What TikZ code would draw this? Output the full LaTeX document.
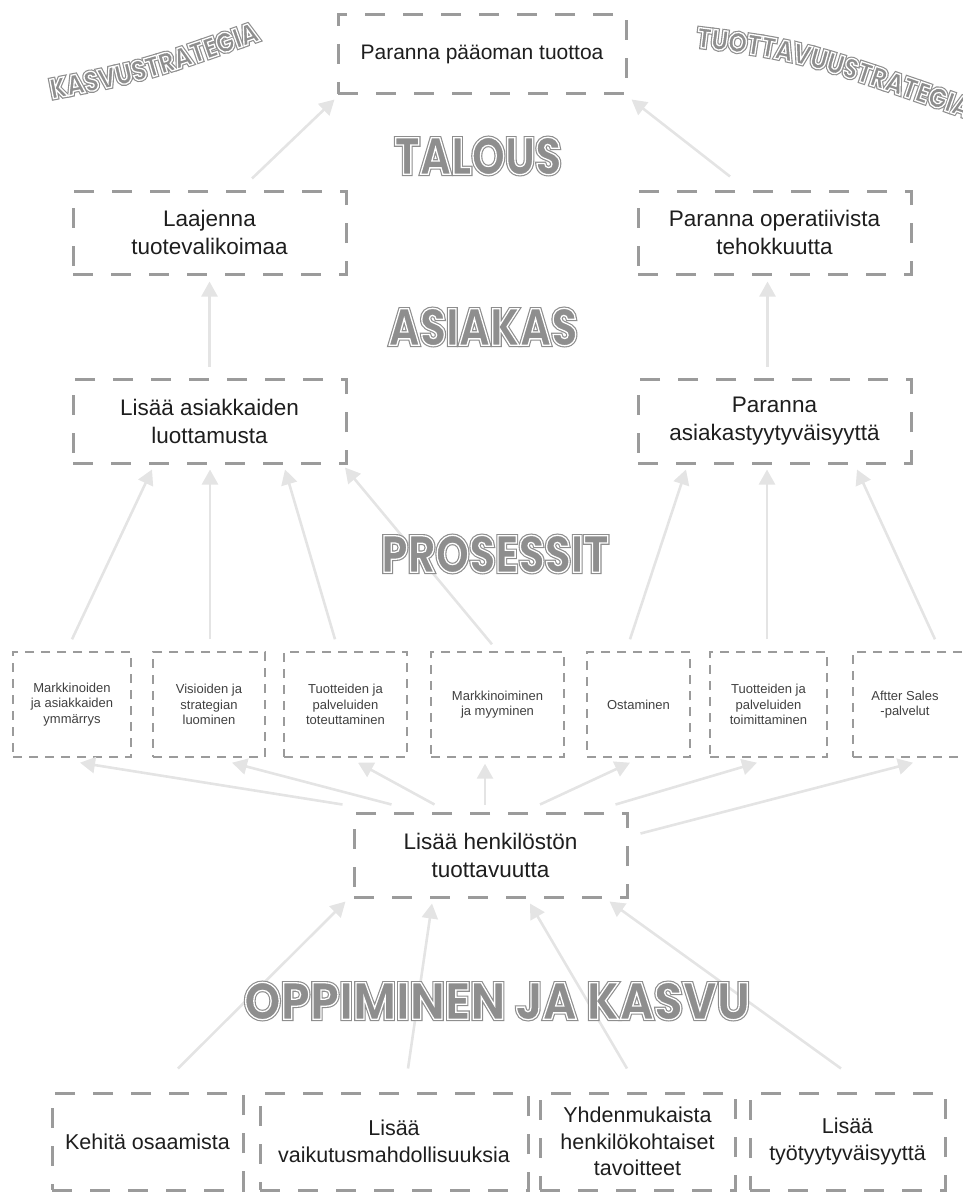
\documentclass[tikz,border=0pt]{standalone}
\usepackage{fontspec}
\setmainfont{Liberation Sans}
\newfontfamily\headfont[FakeStretch=0.82]{Poppins}
\newfontfamily\wideheadfont[FakeStretch=0.9]{Poppins}
\newfontfamily\arcfont[FakeStretch=0.86]{Poppins}
\usetikzlibrary{arrows.meta,decorations.text}

\definecolor{boxgray}{HTML}{9B9B9B}
\definecolor{linkgray}{HTML}{E4E4E4}
\definecolor{hdgray}{HTML}{8E8E8E}
\definecolor{ink}{HTML}{1E1E1E}

% inline lettering: filled and stroked glyphs, then a thin white stroke on the outline
\newcommand\inlinefill{\special{pdf:literal direct 2 Tr 3.6 w}}
\newcommand\inlinecut{\special{pdf:literal direct 1 Tr 1.3 w}}
\newcommand\plainrender{\special{pdf:literal direct 0 Tr}}
\newcommand\inlined[1]{\rlap{\inlinefill#1}{\color{white}\inlinecut#1}\plainrender}
\newcommand\arcstyle{\arcfont\bfseries\fontsize{28}{28}\selectfont}

\tikzset{
  bigbox/.style={draw=boxgray, line width=3pt, dash pattern=on 20pt off 18pt,
    align=center, text=ink, inner sep=0pt},
  procbox/.style={draw=boxgray, line width=1.4pt, dash pattern=on 9pt off 7pt,
    align=center, text=ink!85, inner sep=0pt, minimum height=105pt,
    font=\fontsize{13}{15.5}\selectfont},
  link/.style={draw=linkgray, line width=2.6pt, -{Triangle[length=15pt,width=16pt]}},
  heading/.style={text=hdgray, inner sep=0pt,
    font=\headfont\bfseries\fontsize{52}{52}\selectfont},
}

\begin{document}
\begin{tikzpicture}[x=1pt, y=-1pt]
\useasboundingbox (0,0) rectangle (963,1196);

% ---- objectives
\node[bigbox, minimum width=288pt, minimum height=79pt,
  font=\fontsize{21}{26}\selectfont] (top) at (482,54.5) {Paranna pääoman tuottoa};
\node[bigbox, minimum width=273pt, minimum height=83pt,
  font=\fontsize{22.5}{28}\selectfont] (laaj) at (209.5,232.5) {Laajenna\\tuotevalikoimaa};
\node[bigbox, minimum width=273pt, minimum height=83pt,
  font=\fontsize{22.5}{28}\selectfont] (oper) at (774.5,232.5) {Paranna operatiivista\\tehokkuutta};
\node[bigbox, minimum width=273pt, minimum height=84pt,
  font=\fontsize{22.5}{28}\selectfont] (luott) at (209.5,421) {Lisää asiakkaiden\\luottamusta};
\node[bigbox, minimum width=273pt, minimum height=84pt,
  font=\fontsize{22.5}{28}\selectfont] (tyyt) at (774.5,421) {Paranna\\asiakastyytyväisyyttä};

% ---- processes
\node[procbox, minimum width=118pt] (p1) at (72,704.5) {Markkinoiden\\ja asiakkaiden\\ymmärrys};
\node[procbox, minimum width=112pt] (p2) at (209,704.5) {Visioiden ja\\strategian\\luominen};
\node[procbox, minimum width=123pt] (p3) at (345.5,704.5) {Tuotteiden ja\\palveluiden\\toteuttaminen};
\node[procbox, minimum width=133pt] (p4) at (497.5,704.5) {Markkinoiminen\\ja myyminen};
\node[procbox, minimum width=103pt] (p5) at (638.5,704.5) {Ostaminen};
\node[procbox, minimum width=117pt] (p6) at (768.5,704.5) {Tuotteiden ja\\palveluiden\\toimittaminen};
\node[procbox, minimum width=122pt] (p7) at (914,704.5) {\hspace*{-18pt}Aftter Sales\\\hspace*{-18pt}-palvelut};

% ---- people
\node[bigbox, minimum width=273pt, minimum height=84pt,
  font=\fontsize{22.5}{28}\selectfont] (henk) at (490.5,855) {Lisää henkilöstön\\tuottavuutta};

\node[bigbox, minimum width=191pt, minimum height=97pt,
  font=\fontsize{21.5}{26.5}\selectfont] (b1) at (147.5,1141.5) {Kehitä osaamista};
\node[bigbox, minimum width=268pt, minimum height=97pt,
  font=\fontsize{21.5}{26.5}\selectfont] (b2) at (394,1141.5) {Lisää\\vaikutusmahdollisuuksia};
\node[bigbox, minimum width=195pt, minimum height=97pt,
  font=\fontsize{21.5}{26.5}\selectfont] (b3) at (637.5,1141.5) {Yhdenmukaista\\henkilökohtaiset\\tavoitteet};
\node[bigbox, minimum width=195pt, minimum height=97pt,
  font=\fontsize{21.5}{26.5}\selectfont] (b4) at (847.5,1141.5) {Lisää\\työtyytyväisyyttä};

% ---- cause and effect links
\draw[link] ([xshift=42.5pt,yshift=11pt]laaj.north) -- ([xshift=-2pt,yshift=-4pt]top.south west);
\draw[link] ([xshift=-44.5pt,yshift=13pt]oper.north) -- ([xshift=4pt,yshift=-4pt]top.south east);
\draw[link] ([yshift=11pt]luott.north) -- ([yshift=-6pt]laaj.south);
\draw[link] ([xshift=-7pt,yshift=11pt]tyyt.north) -- ([xshift=-7pt,yshift=-6pt]oper.south);

\draw[link] ([yshift=12pt]p1.north) -- ([xshift=-57.5pt,yshift=-5pt]luott.south);
\draw[link] ([xshift=1pt,yshift=12pt]p2.north) -- ([xshift=0.5pt,yshift=-5pt]luott.south);
\draw[link] ([xshift=-10.5pt,yshift=12pt]p3.north) -- ([xshift=75.5pt,yshift=-5pt]luott.south);
\draw[link] ([xshift=-5.5pt,yshift=7pt]p4.north) -- ([xshift=135.5pt,yshift=-3pt]luott.south);
\draw[link] ([xshift=-8.5pt,yshift=12pt]p5.north) -- ([xshift=-88.5pt,yshift=-5pt]tyyt.south);
\draw[link] ([xshift=-1.5pt,yshift=12pt]p6.north) -- ([xshift=-7.5pt,yshift=-5pt]tyyt.south);
\draw[link] ([xshift=21pt,yshift=12pt]p7.north) -- ([xshift=82.5pt,yshift=-5pt]tyyt.south);

\draw[link] ([xshift=-10pt,yshift=7pt]henk.north west) -- ([xshift=8pt,yshift=-5pt]p1.south);
\draw[link] ([xshift=39pt,yshift=7pt]henk.north west) -- ([xshift=23pt,yshift=-5pt]p2.south);
\draw[link] ([xshift=82pt,yshift=7pt]henk.north west) -- ([xshift=12.5pt,yshift=-5pt]p3.south);
\draw[link] ([xshift=-5.5pt,yshift=7pt]henk.north) -- ([xshift=-12.5pt,yshift=-6pt]p4.south);
\draw[link] ([xshift=49.5pt,yshift=7pt]henk.north) -- ([xshift=-8.5pt,yshift=-5pt]p5.south);
\draw[link] ([xshift=-13pt,yshift=7pt]henk.north east) -- ([xshift=-11.5pt,yshift=-5pt]p6.south);
\draw[link] ([xshift=12pt,yshift=-22pt]henk.north east) -- ([xshift=-1pt,yshift=-5pt]p7.south);

\draw[link] ([xshift=30.5pt,yshift=23pt]b1.north) -- ([xshift=-7pt,yshift=-3pt]henk.south west);
\draw[link] ([xshift=14pt,yshift=23pt]b2.north) -- ([xshift=-58.5pt,yshift=-5pt]henk.south);
\draw[link] ([xshift=-10.5pt,yshift=23pt]b3.north) -- ([xshift=39.5pt,yshift=-5pt]henk.south);
\draw[link] ([xshift=-6.5pt,yshift=23pt]b4.north) -- ([xshift=-19pt,yshift=-3pt]henk.south east);

% ---- perspective headings
\node[heading] (talous) at (478,156) {\inlined{TALOUS}};
\node[heading] (asiakas) at (483,327) {\inlined{ASIAKAS}};
\node[heading] (prosessit) at (495,554) {\inlined{PROSESSIT}};
\node[heading, font=\wideheadfont\bfseries\fontsize{52}{52}\selectfont]
  (oppiminen) at (497,1001) {\inlined{OPPIMINEN JA KASVU}};

% ---- strategy labels along arcs
\begin{scope}
\path[decorate, decoration={text along path,
  text={|\arcstyle\color{hdgray}\inlinefill|KASVUSTRATEGIA}}]
  (52,99) .. controls (150,80) .. (300,26);
\end{scope}
\begin{scope}
\path[decorate, decoration={text along path,
  text={|\arcstyle\color{white}\inlinecut|KASVUSTRATEGIA}}]
  (52,99) .. controls (150,80) .. (300,26);
\end{scope}
\begin{scope}
\path[decorate, decoration={text along path,
  text={|\arcstyle\color{hdgray}\inlinefill|TUOTTAVUUSTRATEGIA}}]
  (696,47) .. controls (800,60) .. (1000,130);
\end{scope}
\begin{scope}
\path[decorate, decoration={text along path,
  text={|\arcstyle\color{white}\inlinecut|TUOTTAVUUSTRATEGIA}}]
  (696,47) .. controls (800,60) .. (1000,130);
\end{scope}
\end{tikzpicture}
\end{document}
